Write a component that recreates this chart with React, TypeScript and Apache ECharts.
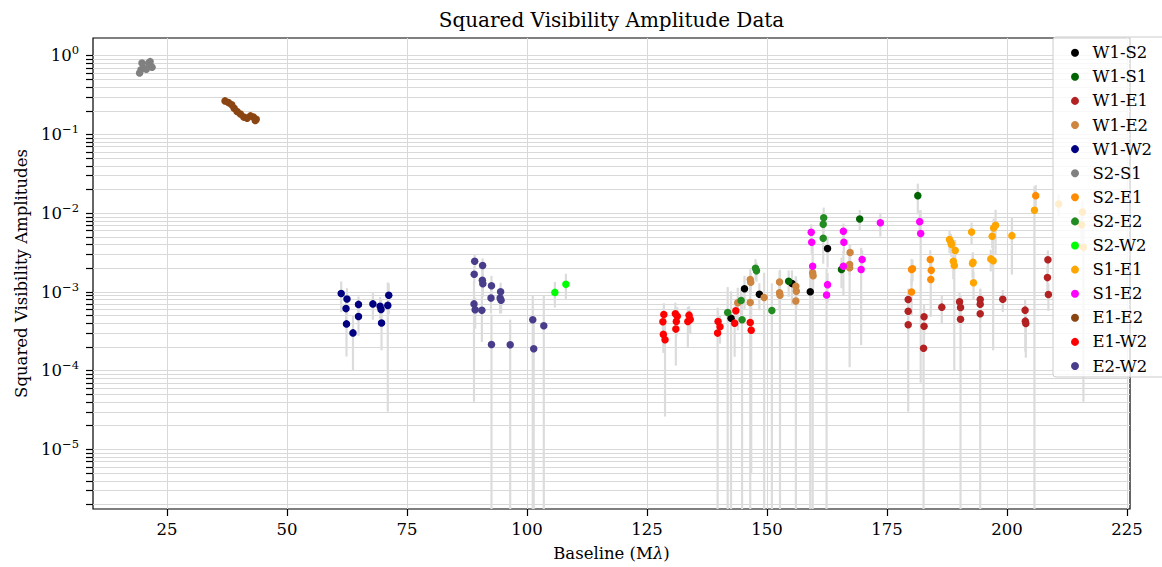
import React, { useEffect, useRef } from "react";
import * as echarts from "echarts";

const FONT = "DejaVu Serif";
const FS = 16.5;
const X_MIN = 9.6;
const X_MAX = 225.6;
const Y_MIN = 1.74e-6;
const Y_MAX = 1.667;

const baselineTicks = [25, 50, 75, 100, 125, 150, 175, 200, 225];
const v2MajorTicks = [1e-5, 1e-4, 1e-3, 1e-2, 1e-1, 1];

type Pt = [number, number, number]; // [baseline (Mλ), V², error]

const W1_S2: Pt[] = [
  [142.5, 4.61e-4, 5.5e-4], [145.3, 1.09e-3, 5e-4], [148.4, 9.3e-4, 3.5e-4],
  [155.2, 1.27e-3, 6e-4], [159.0, 1.0e-3, 1.2e-3], [162.6, 3.53e-3, 1.5e-3],
];
const W1_S1: Pt[] = [
  [154.5, 1.36e-3, 5e-4], [165.5, 1.91e-3, 8e-4], [169.3, 8.4e-3, 2.5e-3], [181.4, 1.66e-2, 7e-3],
];
const W1_E1: Pt[] = [
  [179.4, 7.96e-4, 3e-4], [179.4, 5.66e-4, 2.5e-4], [179.4, 3.8e-4, 3.5e-4],
  [182.7, 4.81e-4, 2e-4], [182.7, 3.65e-4, 1.5e-4], [182.6, 1.91e-4, 2.2e-4],
  [186.4, 6.37e-4, 2.5e-4],
  [190.1, 7.45e-4, 2.5e-4], [190.3, 6.31e-4, 2.5e-4], [190.3, 4.48e-4, 4.6e-4],
  [194.4, 7.96e-4, 3e-4], [194.4, 6.95e-4, 2.5e-4], [194.4, 5.25e-4, 5.4e-4],
  [199.1, 8.03e-4, 2.5e-4],
  [203.75, 5.83e-4, 2e-4], [203.8, 4.23e-4, 2.5e-4], [203.9, 3.95e-4, 2.5e-4],
  [208.5, 2.54e-3, 8e-4], [208.4, 1.51e-3, 6e-4], [208.6, 9.2e-4, 3.5e-4],
];
const W1_E2: Pt[] = [
  [143.9, 7.23e-4, 4e-4], [146.5, 1.43e-3, 5e-4], [146.6, 1.32e-3, 4e-4], [146.5, 7.3e-4, 8e-4],
  [149.4, 8.45e-4, 9e-4], [152.6, 1.33e-3, 5e-4], [152.6, 9.7e-4, 4e-4], [152.7, 9.0e-4, 1e-3],
  [156.0, 1.17e-3, 4e-4], [156.1, 1.01e-3, 4e-4], [156.0, 7.6e-4, 8e-4],
  [159.5, 1.74e-3, 6e-4], [159.6, 1.6e-3, 5e-4],
  [167.3, 3.14e-3, 9e-4], [167.2, 2.21e-3, 6e-4], [167.2, 2.01e-3, 1.9e-3],
];
const W1_W2: Pt[] = [
  [61.3, 9.5e-4, 4e-4], [62.5, 8.1e-4, 3e-4], [62.3, 6.1e-4, 2.5e-4], [62.4, 3.9e-4, 2.4e-4],
  [63.75, 3.0e-4, 2e-4], [64.9, 6.9e-4, 1.8e-4], [64.9, 4.85e-4, 2.1e-4], [67.9, 7.0e-4, 2.6e-4],
  [69.4, 6.55e-4, 2e-4], [69.6, 5.95e-4, 2e-4], [69.7, 4.0e-4, 2.2e-4],
  [71.2, 9.0e-4, 3.8e-4], [71.0, 6.7e-4, 6.4e-4],
];
const S2_S1: Pt[] = [
  [19.3, 0.6, 0.03], [19.6, 0.66, 0.03], [19.8, 0.8, 0.03], [20.1, 0.69, 0.03],
  [20.7, 0.67, 0.03], [21.2, 0.8, 0.03], [21.5, 0.835, 0.03], [21.9, 0.71, 0.03],
];
const S2_E1: Pt[] = [
  [180.1, 1.91e-3, 7e-4], [180.3, 1.95e-3, 6e-4], [180.1, 9.9e-4, 5e-4],
  [184.0, 2.56e-3, 8e-4], [184.2, 1.87e-3, 6e-4], [184.1, 1.43e-3, 9.5e-4],
  [205.96, 1.66e-2, 6e-3],
];
const S2_E2: Pt[] = [
  [141.8, 5.45e-4, 6e-4], [144.6, 7.73e-4, 3e-4], [144.8, 4.4e-4, 5e-4],
  [147.6, 1.99e-3, 6e-4], [147.8, 1.84e-3, 5e-4], [151.0, 5.78e-4, 7e-4],
  [161.8, 8.7e-3, 3e-3], [161.7, 7.2e-3, 2.5e-3], [161.7, 4.77e-3, 2.5e-3],
];
const S2_W2: Pt[] = [
  [105.8, 9.8e-4, 3.5e-4], [108.1, 1.24e-3, 4.5e-4],
];
const S1_E1: Pt[] = [
  [188.0, 4.59e-3, 1.5e-3], [188.3, 4.24e-3, 1.2e-3], [188.4, 3.97e-3, 1.2e-3],
  [189.2, 3.33e-3, 1.2e-3], [188.8, 2.44e-3, 1e-3], [189.0, 2.15e-3, 2.05e-3],
  [192.6, 5.74e-3, 1.8e-3], [192.9, 2.37e-3, 8e-4], [192.8, 2.28e-3, 8e-4], [193.0, 1.3e-3, 5e-4],
  [196.9, 5.05e-3, 1.5e-3], [197.2, 6.46e-3, 2e-3], [197.6, 6.97e-3, 4e-3],
  [196.6, 2.61e-3, 8e-4], [197.1, 2.48e-3, 2.3e-3],
  [201.0, 5.15e-3, 3.5e-3], [205.7, 1.08e-2, 1.1e-2],
  [210.75, 1.3e-2, 4e-3], [215.7, 1.03e-2, 4e-3], [215.5, 7.1e-3, 3e-3], [215.9, 3.66e-3, 3.62e-3],
];
const S1_E2: Pt[] = [
  [159.2, 5.68e-3, 1.5e-3], [159.3, 4.24e-3, 1.2e-3], [159.5, 2.1e-3, 2.4e-3],
  [162.6, 1.23e-3, 5e-4], [162.4, 9.1e-4, 1.1e-3],
  [165.9, 5.85e-3, 1.5e-3], [166.0, 4.24e-3, 1.2e-3], [165.9, 2.1e-3, 1.2e-3],
  [169.8, 2.56e-3, 8e-4], [169.6, 1.91e-3, 1.7e-3],
  [173.6, 7.53e-3, 2.5e-3], [181.8, 7.76e-3, 3e-3], [182.0, 5.47e-3, 5.4e-3],
];
const E1_E2: Pt[] = [
  [37.1, 0.265, 0.006], [37.8, 0.252, 0.006], [38.5, 0.236, 0.006], [39.0, 0.214, 0.006],
  [39.6, 0.194, 0.006], [40.3, 0.181, 0.006], [41.0, 0.165, 0.006], [41.7, 0.16, 0.006],
  [42.4, 0.171, 0.006], [43.0, 0.165, 0.006], [43.6, 0.155, 0.006], [43.4, 0.149, 0.006],
];
const E1_W2: Pt[] = [
  [128.5, 5.14e-4, 2e-4], [128.3, 4.15e-4, 1.5e-4], [128.4, 2.87e-4, 1.2e-4], [128.75, 2.46e-4, 2.2e-4],
  [130.9, 5.25e-4, 2e-4], [131.3, 4.89e-4, 1.5e-4], [131.1, 4.19e-4, 1.5e-4], [131.0, 3.35e-4, 2.2e-4],
  [133.75, 5.04e-4, 1.5e-4], [134.0, 4.45e-4, 1.5e-4], [133.5, 4.19e-4, 2.2e-4],
  [139.8, 4.19e-4, 1.5e-4], [140.2, 3.59e-4, 1.4e-4], [139.7, 2.98e-4, 3.3e-4],
  [143.5, 5.73e-4, 2e-4], [143.25, 3.99e-4, 2.5e-4],
  [146.5, 4.07e-4, 1.5e-4], [146.7, 3.25e-4, 3.2e-4],
];
const E2_W2: Pt[] = [
  [89.1, 2.44e-3, 5e-4], [90.75, 2.15e-3, 5e-4], [89.0, 1.67e-3, 4e-4], [90.7, 1.4e-3, 5e-4],
  [90.8, 1.26e-3, 4e-4], [92.6, 1.19e-3, 4e-4], [94.5, 1.0e-3, 3e-4], [92.5, 8.3e-4, 3e-4],
  [94.4, 8.3e-4, 3e-4], [94.6, 7.8e-4, 2.5e-4], [88.96, 7.0e-4, 6.6e-4], [89.2, 5.9e-4, 2.5e-4],
  [90.6, 5.8e-4, 3.5e-4], [92.6, 2.14e-4, 3e-4], [96.5, 2.12e-4, 2.3e-4],
  [101.2, 4.4e-4, 4.5e-4], [103.5, 3.7e-4, 5.2e-4], [101.4, 1.89e-4, 2e-4],
];

const seriesNames = [
  "W1-S2", "W1-S1", "W1-E1", "W1-E2", "W1-W2", "S2-S1", "S2-E1",
  "S2-E2", "S2-W2", "S1-E1", "S1-E2", "E1-E2", "E1-W2", "E2-W2",
];
const seriesColors = [
  "#000000", "#006400", "#B22222", "#CD853F", "#000080", "#808080", "#FF8C00",
  "#228B22", "#00FF00", "#FFA500", "#FF00FF", "#8B4513", "#FF0000", "#483D8B",
];
const seriesData = [
  W1_S2, W1_S1, W1_E1, W1_E2, W1_W2, S2_S1, S2_E1,
  S2_E2, S2_W2, S1_E1, S1_E2, E1_E2, E1_W2, E2_W2,
];

function minorTicks(): number[] {
  const out: number[] = [];
  for (let e = -6; e <= 0; e++) {
    for (let m = 2; m <= 9; m++) {
      const v = m * Math.pow(10, e);
      if (v > Y_MIN && v < Y_MAX) out.push(v);
    }
  }
  return out;
}

export default function App() {
  const ref = useRef<HTMLDivElement>(null);
  useEffect(() => {
    if (!ref.current) return;
    const chart = echarts.init(ref.current, null, { renderer: "svg" });
    const yMinor = minorTicks();
    const yAll = [...v2MajorTicks, ...yMinor];

    const decor: any = {
      type: "custom",
      name: "__decor",
      z: 1,
      silent: true,
      clip: false,
      data: [[X_MIN + 1, 1]],
      renderItem: (params: any, api: any) => {
        const cs = params.coordSys;
        const children: any[] = [];
        const grid = { stroke: "#d9d9d9", lineWidth: 1 };
        const tick = { stroke: "#000", lineWidth: 1.2 };
        baselineTicks.forEach((v) => {
          const x = Math.round(api.coord([v, 1])[0]) + 0.5;
          children.push({ type: "line", shape: { x1: x, y1: cs.y, x2: x, y2: cs.y + cs.height }, style: grid });
          children.push({ type: "line", shape: { x1: x, y1: cs.y + cs.height, x2: x, y2: cs.y + cs.height + 7 }, style: tick });
        });
        yAll.forEach((v) => {
          const y = Math.round(api.coord([X_MIN, v])[1]) + 0.5;
          children.push({ type: "line", shape: { x1: cs.x, y1: y, x2: cs.x + cs.width, y2: y }, style: grid });
          children.push({ type: "line", shape: { x1: cs.x - 7, y1: y, x2: cs.x, y2: y }, style: tick });
        });
        return { type: "group", children };
      },
    };

    const series: any[] = [decor];
    seriesData.forEach((arr, i) => {
      series.push({
        type: "custom",
        name: "__err" + i,
        z: 2,
        silent: true,
        clip: false,
        data: arr.map((p) => [p[0], p[1], p[2]]),
        renderItem: (params: any, api: any) => {
          const cs = params.coordSys;
          const x = api.value(0);
          const y = api.value(1);
          const e = api.value(2);
          const top = api.coord([x, y + e]);
          const lo = y - e;
          const by = lo > Y_MIN ? api.coord([x, lo])[1] : cs.y + cs.height;
          return {
            type: "line",
            shape: { x1: top[0], y1: Math.max(top[1], cs.y), x2: top[0], y2: by },
            style: { stroke: "#dcdcdc", lineWidth: 2.2 },
          };
        },
      });
      series.push({
        type: "scatter",
        name: seriesNames[i],
        z: 3,
        symbol: "circle",
        symbolSize: 7.5,
        itemStyle: { color: seriesColors[i], opacity: 1 },
        data: arr.map((p) => [p[0], p[1]]),
      });
    });

    chart.setOption({
      animation: false,
      grid: {
        left: 93, right: 32, top: 38, bottom: 57,
        show: true, borderColor: "#000", borderWidth: 1.2, backgroundColor: "transparent",
      },
      xAxis: {
        type: "value",
        min: X_MIN,
        max: X_MAX,
        name: "Baseline (M{i|λ})",
        nameLocation: "middle",
        nameGap: 36,
        nameTextStyle: {
          fontFamily: FONT, fontSize: FS, color: "#000",
          rich: { i: { fontFamily: FONT, fontSize: FS, fontStyle: "italic", color: "#000" } },
        },
        axisLine: { show: false },
        axisTick: { show: false },
        splitLine: { show: false },
        axisLabel: {
          customValues: baselineTicks,
          fontFamily: FONT, fontSize: FS, color: "#000", margin: 12,
          formatter: (v: number) => String(Math.round(v)),
        },
      },
      yAxis: {
        type: "log",
        logBase: 10,
        min: Y_MIN,
        max: Y_MAX,
        name: "Squared Visibility Amplitudes",
        nameLocation: "middle",
        nameGap: 62,
        nameTextStyle: { fontFamily: FONT, fontSize: FS, color: "#000" },
        axisLine: { show: false },
        axisTick: { show: false },
        splitLine: { show: false },
        minorSplitLine: { show: false },
        axisLabel: {
          customValues: v2MajorTicks,
          margin: 14,
          color: "#000",
          formatter: (v: number) => {
            const e = Math.round(Math.log10(v));
            return "{b|10}{sup|" + (e < 0 ? "\u2212" + -e : String(e)) + "}";
          },
          rich: {
            b: { fontFamily: FONT, fontSize: FS, color: "#000", verticalAlign: "bottom", lineHeight: 18 },
            sup: { fontFamily: FONT, fontSize: 11.5, color: "#000", verticalAlign: "bottom", lineHeight: 18, padding: [0, 0, 8, 0] },
          },
        },
      },
      legend: {
        data: seriesNames,
        orient: "vertical",
        left: 1053,
        top: 37,
        padding: [6.7, 30, 2, 18],
        itemWidth: 25,
        itemHeight: 8,
        itemGap: 6.1,
        icon: "circle",
        backgroundColor: "rgba(255,255,255,0.8)",
        borderColor: "#cccccc",
        borderWidth: 1,
        borderRadius: 3,
        textStyle: { fontFamily: FONT, fontSize: FS, color: "#000", lineHeight: 18 },
      },
      graphic: [
        {
          type: "text",
          x: 611.5,
          y: 20,
          style: {
            text: "Squared Visibility Amplitude Data",
            font: '20px "DejaVu Serif"',
            fill: "#000",
            align: "center",
            verticalAlign: "middle",
          },
        },
      ],
      series,
    });
    return () => chart.dispose();
  }, []);
  return (
    <div
      ref={ref}
      style={{ position: "fixed", left: 0, top: 0, width: 1162, height: 567, background: "#fff" }}
    />
  );
}
